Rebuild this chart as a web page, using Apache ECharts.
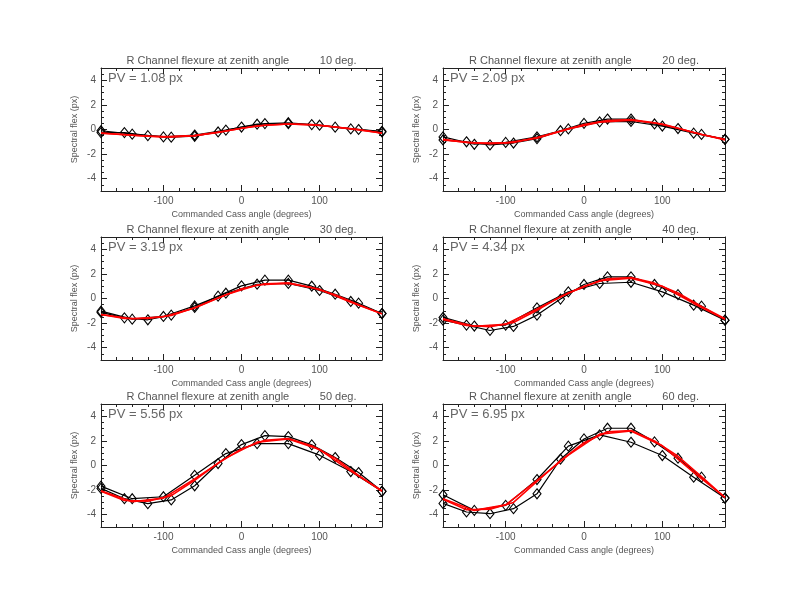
<!DOCTYPE html>
<html>
<head>
<meta charset="utf-8">
<script src="https://cdn.jsdelivr.net/npm/echarts/dist/echarts.min.js"></script>
<style>
html,body{margin:0;padding:0;background:#fff;}
#chart{width:792px;height:612px;}
</style>
</head>
<body>
<div id="chart"></div>
<script>
// ---- data ----
const anglesA = [-180, -150, -120, -90, -60, -30, 0, 30, 60, 90, 120, 150, 180];
const anglesB = [-180, -140, -100, -60, -20, 20, 60, 100, 140, 180];
const zenithAngles = [10, 20, 30, 40, 50, 60];
const pvValues = ['1.08', '2.09', '3.19', '4.34', '5.56', '6.95'];
const xTickLabels = [-100, 0, 100];
const yTickLabels = [-4, -2, 0, 2, 4];

const measA_10 = [-0.25, -0.25, -0.5, -0.62, -0.55, -0.2, 0.2, 0.48, 0.55, 0.4, 0.19, 0.0, -0.2];
const measB_10 = [-0.1, -0.38, -0.6, -0.45, -0.05, 0.43, 0.48, 0.35, 0.05, -0.15];
const fitA_10  = [-0.3, -0.42, -0.55, -0.6, -0.5, -0.25, 0.1, 0.35, 0.45, 0.4, 0.2, 0.0, -0.3];
const fitB_10  = [-0.28, -0.47, -0.6, -0.5, -0.12, 0.3, 0.45, 0.35, 0.05, -0.28];

const measA_20 = [-0.85, -1.0, -1.25, -1.1, -0.75, -0.1, 0.5, 0.85, 0.85, 0.45, 0.08, -0.4, -0.8];
const measB_20 = [-0.6, -1.2, -1.05, -0.6, 0.05, 0.62, 0.65, 0.28, -0.3, -0.8];
const fitA_20  = [-0.8, -1.05, -1.15, -1.05, -0.65, -0.15, 0.4, 0.72, 0.8, 0.55, 0.1, -0.4, -0.8];
const fitB_20  = [-0.85, -1.1, -1.1, -0.7, 0.05, 0.6, 0.75, 0.45, -0.25, -0.85];

const measA_30 = [-1.13, -1.57, -1.73, -1.35, -0.73, 0.19, 1.03, 1.49, 1.49, 1.0, 0.35, -0.38, -1.22];
const measB_30 = [-1.03, -1.68, -1.46, -0.6, 0.43, 1.16, 1.22, 0.65, -0.24, -1.22];
const fitA_30  = [-1.3, -1.62, -1.62, -1.38, -0.75, 0.05, 0.8, 1.2, 1.25, 0.9, 0.3, -0.5, -1.25];
const fitB_30  = [-1.3, -1.65, -1.48, -0.78, 0.3, 1.1, 1.25, 0.75, -0.3, -1.25];

const measA_40 = [-1.76, -2.16, -2.6, -2.27, -1.35, -0.05, 1.14, 1.76, 1.76, 1.14, 0.32, -0.62, -1.76];
const measB_40 = [-1.54, -2.24, -2.16, -0.76, 0.54, 1.22, 1.32, 0.54, -0.54, -1.76];
const fitA_40  = [-1.7, -2.2, -2.3, -1.95, -0.95, 0.15, 1.0, 1.6, 1.7, 1.25, 0.45, -0.65, -1.65];
const fitB_40  = [-1.65, -2.25, -2.1, -0.85, 0.45, 1.45, 1.65, 1.0, -0.4, -1.7];

const measA_50 = [-1.86, -2.7, -3.1, -2.8, -1.65, 0.16, 1.7, 2.43, 2.35, 1.68, 0.65, -0.57, -2.1];
const measB_50 = [-1.68, -2.7, -2.54, -0.8, 0.97, 1.78, 1.78, 0.84, -0.49, -2.1];
const fitA_50  = [-2.1, -2.85, -2.9, -2.45, -1.2, 0.2, 1.35, 2.05, 2.2, 1.6, 0.6, -0.8, -2.1];
const fitB_50  = [-2.05, -2.95, -2.65, -1.1, 0.6, 1.9, 2.15, 1.3, -0.45, -2.05];

const measA_60 = [-3.08, -3.78, -3.92, -3.51, -2.3, 0.51, 2.16, 3.03, 3.03, 1.92, 0.59, -0.95, -2.65];
const measB_60 = [-2.38, -3.65, -3.24, -1.14, 1.57, 2.49, 1.89, 0.81, -0.95, -2.65];
const fitA_60  = [-2.75, -3.6, -3.55, -3.0, -1.3, 0.4, 1.85, 2.75, 2.85, 2.0, 0.75, -0.9, -2.6];
const fitB_60  = [-2.7, -3.65, -3.2, -1.2, 0.85, 2.55, 2.8, 1.6, -0.55, -2.6];

const measA = [measA_10, measA_20, measA_30, measA_40, measA_50, measA_60];
const measB = [measB_10, measB_20, measB_30, measB_40, measB_50, measB_60];
const fitA = [fitA_10, fitA_20, fitA_30, fitA_40, fitA_50, fitA_60];
const fitB = [fitB_10, fitB_20, fitB_30, fitB_40, fitB_50, fitB_60];

// ---- layout ----
const colLeft = [101, 443];
const colWidth = [281, 282];
const rowTop = [68, 237, 404];
const plotH = 123;
const FONT = '"Liberation Sans", Arial, sans-serif';
const TEXT = '#555';
const AXIS = '#222';

const pair = (xs, ys) => xs.map((x, i) => [x, ys[i]]);

const grids = [], xAxes = [], yAxes = [], series = [], graphics = [];

zenithAngles.forEach((z, i) => {
  const r = Math.floor(i / 2), c = i % 2;
  const left = colLeft[c], top = rowTop[r], w = colWidth[c];
  grids.push({ left: left, top: top, width: w, height: plotH, containLabel: false });

  const xBase = { type: 'value', gridIndex: i, min: -180, max: 180, splitLine: { show: false } };
  const yBase = { type: 'value', gridIndex: i, min: -5, max: 5, splitLine: { show: false } };
  const line = { show: true, onZero: false, lineStyle: { color: AXIS, width: 1 } };
  const noLine = { show: false, onZero: false };

  xAxes.push(Object.assign({}, xBase, {
    position: 'bottom', axisLine: line,
    axisTick: { show: true, inside: true, length: 6, customValues: xTickLabels, lineStyle: { color: AXIS } },
    axisLabel: { show: true, customValues: xTickLabels, margin: 5, fontSize: 10, color: TEXT, fontFamily: FONT },
    name: 'Commanded Cass angle (degrees)', nameLocation: 'middle', nameGap: 19,
    nameTextStyle: { fontSize: 9, color: TEXT, fontFamily: FONT }
  }));
  xAxes.push(Object.assign({}, xBase, {
    position: 'bottom', interval: 20, axisLine: noLine,
    axisTick: { show: true, inside: true, length: 3, lineStyle: { color: AXIS } },
    axisLabel: { show: false }
  }));
  xAxes.push(Object.assign({}, xBase, {
    position: 'top', axisLine: line,
    axisTick: { show: true, inside: true, length: 6, customValues: xTickLabels, lineStyle: { color: AXIS } },
    axisLabel: { show: false }
  }));
  xAxes.push(Object.assign({}, xBase, {
    position: 'top', interval: 20, axisLine: noLine,
    axisTick: { show: true, inside: true, length: 3, lineStyle: { color: AXIS } },
    axisLabel: { show: false }
  }));

  yAxes.push(Object.assign({}, yBase, {
    position: 'left', axisLine: line,
    axisTick: { show: true, inside: true, length: 6, customValues: yTickLabels, lineStyle: { color: AXIS } },
    axisLabel: { show: true, customValues: yTickLabels, margin: 5, fontSize: 10, color: TEXT, fontFamily: FONT },
    name: 'Spectral flex (px)', nameLocation: 'middle', nameGap: 22,
    nameTextStyle: { fontSize: 9, color: TEXT, fontFamily: FONT }
  }));
  yAxes.push(Object.assign({}, yBase, {
    position: 'left', interval: 0.5, axisLine: noLine,
    axisTick: { show: true, inside: true, length: 3, lineStyle: { color: AXIS } },
    axisLabel: { show: false }
  }));
  yAxes.push(Object.assign({}, yBase, {
    position: 'right', axisLine: line,
    axisTick: { show: true, inside: true, length: 6, customValues: yTickLabels, lineStyle: { color: AXIS } },
    axisLabel: { show: false }
  }));
  yAxes.push(Object.assign({}, yBase, {
    position: 'right', interval: 0.5, axisLine: noLine,
    axisTick: { show: true, inside: true, length: 3, lineStyle: { color: AXIS } },
    axisLabel: { show: false }
  }));

  const ax = { xAxisIndex: 4 * i, yAxisIndex: 4 * i };
  const blackStyle = {
    type: 'line', symbol: 'diamond', symbolSize: [8, 10], showAllSymbol: true,
    lineStyle: { color: '#000', width: 1.2 },
    itemStyle: { color: 'rgba(255,255,255,0)', borderColor: '#000', borderWidth: 1.1 },
    z: 3, animation: false, silent: true
  };
  series.push(Object.assign({}, ax, blackStyle, { data: pair(anglesA, measA[i]) }));
  series.push(Object.assign({}, ax, blackStyle, { data: pair(anglesB, measB[i]) }));
  const redStyle = {
    type: 'line', symbol: 'none', lineStyle: { color: '#ff0000', width: 1.6 },
    z: 4, animation: false, silent: true
  };
  series.push(Object.assign({}, ax, redStyle, { data: pair(anglesA, fitA[i]) }));
  series.push(Object.assign({}, ax, redStyle, { data: pair(anglesB, fitB[i]) }));

  graphics.push({
    type: 'text', x: left + w / 2, y: top - 7.5,
    style: { text: 'R Channel flexure at zenith angle          ' + z + ' deg.', fontSize: 11, fontFamily: FONT,
      fill: TEXT, align: 'center', verticalAlign: 'middle' }
  });
  graphics.push({
    type: 'text', x: left + 7, y: top + 10,
    style: { text: 'PV = ' + pvValues[i] + ' px', fontSize: 13, fontFamily: FONT,
      fill: '#666', align: 'left', verticalAlign: 'middle' }
  });
});

const chart = echarts.init(document.getElementById('chart'), null, { renderer: 'canvas' });
chart.setOption({
  backgroundColor: '#fff',
  animation: false,
  grid: grids,
  xAxis: xAxes,
  yAxis: yAxes,
  series: series,
  graphic: graphics
});
</script>
</body>
</html>
